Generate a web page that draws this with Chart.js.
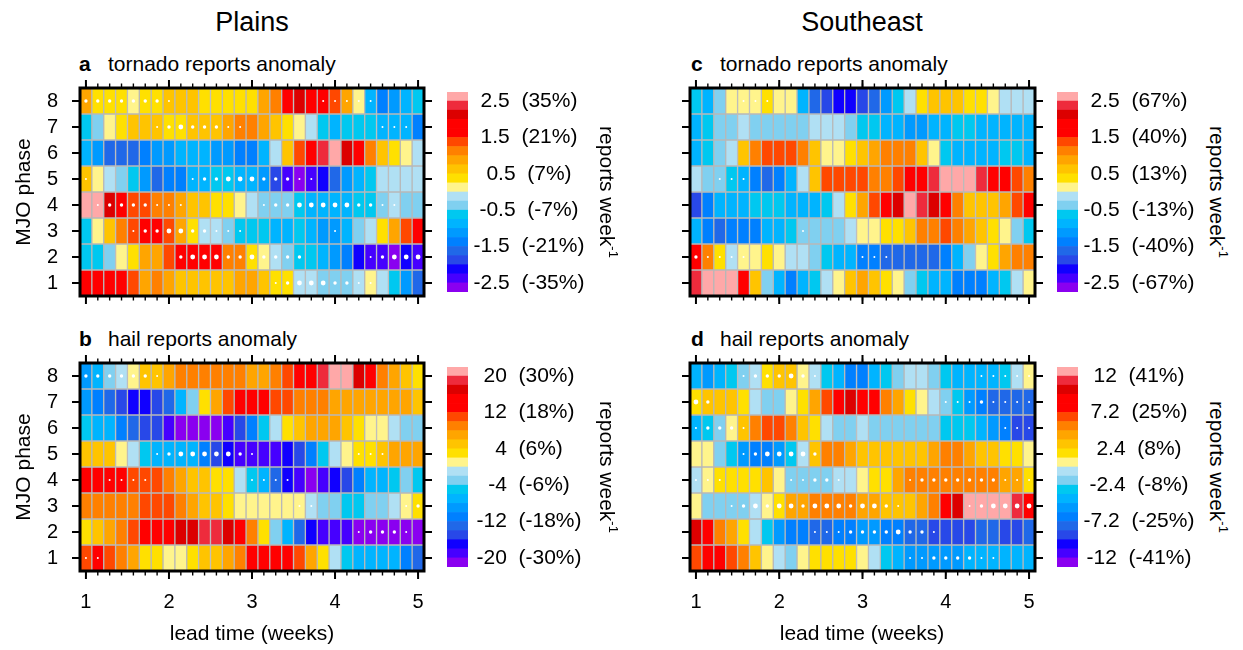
<!DOCTYPE html>
<html>
<head>
<meta charset="utf-8">
<script src="https://cdn.jsdelivr.net/npm/chart.js@4.4.1/dist/chart.umd.min.js"></script>
<style>
  body { margin: 0; background: #fff; }
  #page { position: relative; width: 1243px; height: 650px; overflow: hidden; background: #fff;
          font-family: "Liberation Sans", Arial, Helvetica, sans-serif; color: #000; }
  #page canvas { position: absolute; }
  .t { position: absolute; white-space: nowrap; line-height: 1; }
  .region { font-size: 27px; transform: translate(-50%, -50%); }
  .panel { font-size: 21px; transform: translate(0, -50%); }
  .panel b { display: inline-block; width: 29px; }
  .ylab { font-size: 21px; transform: translate(-50%, -50%) rotate(-90deg); }
  .xlab { font-size: 21px; transform: translate(-50%, -50%); }
  .unit { font-size: 21px; transform: translate(-50%, -50%) rotate(90deg); }
  .unit sup { font-size: 13px; line-height: 0; vertical-align: 9px; }
</style>
</head>
<body>
<div id="page">
  <canvas id="heatA" width="440" height="226" style="left:0px;top:80px"></canvas>
  <canvas id="heatB" width="440" height="295" style="left:0px;top:355px"></canvas>
  <canvas id="heatC" width="440" height="226" style="left:610px;top:80px"></canvas>
  <canvas id="heatD" width="440" height="295" style="left:610px;top:355px"></canvas>
  <canvas id="barA" width="150" height="226" style="left:440px;top:80px"></canvas>
  <canvas id="barB" width="150" height="226" style="left:440px;top:355px"></canvas>
  <canvas id="barC" width="150" height="226" style="left:1050px;top:80px"></canvas>
  <canvas id="barD" width="150" height="226" style="left:1050px;top:355px"></canvas>

  <div class="t region" style="left:252px;top:22px">Plains</div>
  <div class="t region" style="left:862px;top:22px">Southeast</div>

  <div class="t panel" style="left:79px;top:63px"><b>a</b>tornado reports anomaly</div>
  <div class="t panel" style="left:79px;top:338px"><b>b</b>hail reports anomaly</div>
  <div class="t panel" style="left:691px;top:63px"><b>c</b>tornado reports anomaly</div>
  <div class="t panel" style="left:691px;top:338px"><b>d</b>hail reports anomaly</div>

  <div class="t ylab" style="left:22px;top:192px">MJO phase</div>
  <div class="t ylab" style="left:22px;top:467px">MJO phase</div>
  <div class="t xlab" style="left:252px;top:632px">lead time (weeks)</div>
  <div class="t xlab" style="left:862px;top:632px">lead time (weeks)</div>

  <div class="t unit" style="left:607px;top:192px">reports week<sup>-1</sup></div>
  <div class="t unit" style="left:607px;top:467px">reports week<sup>-1</sup></div>
  <div class="t unit" style="left:1217px;top:192px">reports week<sup>-1</sup></div>
  <div class="t unit" style="left:1217px;top:467px">reports week<sup>-1</sup></div>
</div>

<script>
// Lead time in days (plotted in weeks), MJO phases listed top row first.
const leadDays = [7, 8, 9, 10, 11, 12, 13, 14, 15, 16, 17, 18, 19, 20, 21, 22, 23, 24, 25, 26, 27, 28, 29, 30, 31, 32, 33, 34, 35];
const phases = [8, 7, 6, 5, 4, 3, 2, 1];
const weekTicks = [1, 2, 3, 4, 5];

// Contour levels of each panel (reports per week)
const tornadoLevels = [-2.5, -2.25, -2, -1.75, -1.5, -1.25, -1, -0.75, -0.5, -0.25, 0, 0.25, 0.5, 0.75, 1, 1.25, 1.5, 1.75, 2, 2.25, 2.5];
const plainsHailLevels = [-20, -18, -16, -14, -12, -10, -8, -6, -4, -2, 0, 2, 4, 6, 8, 10, 12, 14, 16, 18, 20];
const seHailLevels = [-12, -10.8, -9.6, -8.4, -7.2, -6, -4.8, -3.6, -2.4, -1.2, 0, 1.2, 2.4, 3.6, 4.8, 6, 7.2, 8.4, 9.6, 10.8, 12];

// Labelled colour-bar ticks
const tornadoTicks = [-2.5, -1.5, -0.5, 0.5, 1.5, 2.5];
const plainsTornadoPct = ['-35%', '-21%', '-7%', '7%', '21%', '35%'];
const seTornadoPct = ['-67%', '-40%', '-13%', '13%', '40%', '67%'];
const plainsHailTicks = [-20, -12, -4, 4, 12, 20];
const plainsHailPct = ['-30%', '-18%', '-6%', '6%', '18%', '30%'];
const seHailTicks = [-12, -7.2, -2.4, 2.4, 7.2, 12];
const seHailPct = ['-41%', '-25%', '-8%', '8%', '25%', '41%'];

// a: Plains tornado reports anomaly (rows = phases 8..1, columns = lead days 7..35)
const plainsTornado = [
  [0.9, 0.4, 0.4, 0.4, 0.1, 0.4, 0.4, 0.6, 0.6, 0.6, 0.4, 0.4, 0.4, 0.4, 0.4, 0.9, 1.1, 1.9, 2.1, 1.9, 1.9, 1.4, 0.9, 0.1, -0.8, -1.4, -1.1, -0.8, -0.6],
  [-0.6, -0.4, 0.1, 0.4, 0.6, 0.6, 0.6, 0.4, 0.4, 0.6, 0.6, 0.6, 0.9, 1.1, 1.1, 0.9, 0.6, 0.4, 0.1, -0.1, -0.6, -0.8, -0.6, -0.6, -0.6, -0.8, -0.8, -0.8, -1.4],
  [-0.8, -1.1, -1.6, -1.6, -1.6, -1.4, -1.1, -1.1, -0.8, -0.8, -0.8, -1.1, -1.1, -1.4, -1.4, -0.8, -0.1, 0.6, 1.4, 1.9, 2.4, 2.6, 2.1, 1.9, 1.1, 0.6, 0.4, 0.1, -0.1],
  [0.6, 0.1, -0.1, -0.4, -0.6, -1.1, -1.6, -1.4, -1.4, -0.8, -0.8, -0.6, -0.6, -0.8, -0.8, -1.1, -1.9, -2.4, -2.6, -2.4, -2.1, -1.6, -1.1, -0.8, -0.6, -0.1, -0.1, -0.1, -0.1],
  [2.6, 2.6, 2.1, 1.9, 1.4, 1.4, 1.1, 1.1, 0.9, 0.6, 0.6, 0.4, 0.4, 0.1, -0.1, -0.4, -0.4, -0.4, -0.6, -0.9, -0.8, -0.8, -0.8, -0.6, -0.6, -0.4, -0.1, -0.4, -0.4],
  [-0.6, 0.1, 0.6, 1.1, 1.4, 1.9, 1.9, 1.4, 0.9, 0.4, -0.1, -0.1, -0.4, -0.6, -0.6, -0.6, -0.8, -0.8, -0.6, -0.8, -1.1, -1.1, -0.8, -0.4, -0.1, 0.4, 0.9, 1.4, 1.9],
  [-0.6, -0.6, -0.4, 0.1, 0.4, 0.9, 0.9, 1.4, 1.9, 1.9, 1.9, 1.9, 1.1, 1.1, 0.4, 0.1, -0.1, -0.4, -0.6, -0.6, -0.8, -1.1, -1.4, -2.1, -2.4, -2.4, -2.6, -2.1, -2.4],
  [1.9, 1.9, 1.9, 1.9, 1.4, 0.9, 1.1, 0.9, 0.6, 0.6, 0.6, 0.6, 0.6, 0.9, 0.9, 0.6, 0.4, 0.4, -0.1, -0.1, -0.4, -0.4, -0.4, -0.1, 0.1, -0.1, -0.6, -1.1, -1.6]
];
// Significance marks: 0 none, 1/2/3 increasing confidence
const plainsTornadoSig = [
  [2, 2, 2, 2, 2, 2, 2, 1, 0, 0, 0, 0, 0, 0, 0, 0, 0, 0, 0, 0, 1, 1, 1, 1, 1, 0, 0, 0, 0],
  [0, 0, 0, 0, 0, 0, 1, 2, 3, 2, 2, 2, 1, 1, 0, 0, 0, 0, 0, 0, 0, 0, 0, 0, 0, 1, 1, 1, 0],
  [0, 0, 0, 0, 0, 0, 0, 0, 0, 0, 0, 0, 0, 0, 0, 0, 0, 0, 0, 0, 0, 0, 0, 0, 0, 0, 0, 0, 0],
  [1, 0, 0, 0, 0, 0, 0, 0, 0, 1, 2, 2, 3, 3, 3, 2, 2, 2, 1, 1, 0, 0, 0, 0, 0, 0, 0, 0, 0],
  [0, 1, 2, 2, 2, 2, 1, 1, 1, 0, 0, 0, 0, 0, 0, 1, 2, 2, 3, 3, 3, 3, 3, 2, 2, 1, 1, 0, 0],
  [0, 0, 0, 0, 1, 2, 2, 3, 3, 2, 2, 1, 1, 1, 0, 0, 0, 0, 0, 0, 0, 1, 0, 0, 0, 0, 0, 0, 0],
  [0, 0, 0, 0, 0, 0, 0, 0, 2, 3, 3, 3, 2, 2, 3, 2, 2, 2, 2, 0, 0, 0, 0, 0, 1, 2, 3, 3, 3],
  [0, 0, 0, 0, 0, 0, 0, 0, 0, 0, 0, 0, 0, 0, 0, 0, 1, 2, 3, 3, 3, 2, 2, 1, 1, 0, 0, 0, 0]
];

// b: Plains hail reports anomaly
const plainsHail = [
  [-9, -6.5, -3, -1, 1, 5, 5, 7, 9, 9, 9, 9, 9, 9, 7, 7, 9, 11, 15, 15, 19, 21, 21, 17, 15, 9, 7, 5, 3],
  [-9, -11, -13, -15, -17, -17, -15, -13, -7, -3, 3, 7, 11, 15, 15, 15, 11, 11, 9, 9, 9, 7, 7, 7, 7, 7, 7, 7, 5],
  [-5, -6.5, -7, -11, -13, -15, -15, -19, -21, -21, -21, -21, -19, -15, -11, -5, -1, 3, 5, 7, 7, 7, 5, 3, 1, 1, -1, -3, -3],
  [5, 5, 5, 1, -1, -5, -6.5, -7, -7, -7, -11, -15, -17, -19, -19, -19, -19, -17, -15, -11, -5, -1, 1, 3, 3, 5, 7, 7, 7],
  [15, 15, 15, 15, 11, 11, 11, 9, 7, 5, 5, 3, 3, -1, -5, -7, -13, -17, -19, -21, -19, -17, -15, -11, -6.5, -6.5, -5, -3, -5],
  [9, 9, 9, 9, 9, 11, 11, 11, 9, 7, 5, 5, 3, 1, 1, 1, 1, 1, 1, -1, -3, -3, -5, -5, -3, -3, -1, 1, 3],
  [3, 5, 7, 9, 11, 15, 15, 15, 17, 17, 19, 19, 17, 15, 9, 3, -3, -7, -13, -17, -19, -19, -19, -21, -21, -21, -21, -21, -21],
  [11, 15, 11, 9, 7, 3, 3, 1, 1, 3, 5, 5, 7, 9, 15, 15, 15, 15, 11, 7, 3, -1, -5, -6.5, -6.5, -7, -7, -11, -13]
];
const plainsHailSig = [
  [2, 2, 2, 2, 2, 2, 1, 0, 0, 0, 0, 0, 0, 0, 0, 0, 0, 0, 0, 0, 0, 0, 0, 0, 0, 0, 0, 0, 0],
  [0, 0, 0, 0, 0, 0, 0, 0, 0, 0, 0, 0, 0, 0, 0, 0, 0, 0, 0, 0, 0, 0, 0, 0, 0, 0, 0, 0, 0],
  [0, 0, 0, 0, 0, 0, 0, 0, 0, 0, 0, 0, 0, 0, 0, 0, 0, 0, 0, 0, 0, 0, 0, 0, 0, 0, 0, 0, 0],
  [0, 0, 0, 0, 0, 0, 1, 2, 3, 3, 3, 3, 3, 2, 1, 0, 0, 0, 0, 0, 0, 0, 0, 1, 1, 1, 0, 0, 0],
  [0, 0, 1, 1, 1, 1, 0, 0, 0, 0, 0, 0, 0, 0, 1, 1, 1, 1, 0, 0, 0, 0, 0, 0, 0, 0, 0, 0, 0],
  [0, 0, 0, 0, 0, 0, 0, 0, 0, 0, 0, 0, 0, 0, 0, 0, 0, 0, 1, 1, 0, 0, 0, 0, 0, 0, 0, 1, 2],
  [0, 0, 0, 0, 0, 0, 0, 0, 0, 0, 0, 0, 0, 0, 0, 0, 0, 0, 0, 0, 0, 0, 0, 1, 2, 2, 2, 1, 0],
  [1, 1, 0, 0, 0, 0, 0, 0, 0, 0, 0, 0, 0, 0, 0, 0, 0, 0, 0, 0, 0, 0, 0, 0, 0, 0, 0, 0, 0]
];

// c: Southeast tornado reports anomaly
const seTornado = [
  [-0.6, -0.8, -0.4, 0.1, 0.1, 0.1, 0.4, 0.1, 0.1, -0.8, -1.6, -1.9, -2.1, -2.1, -1.9, -1.6, -1.1, -0.6, -0.1, 0.4, 0.6, 0.6, 0.6, 0.4, 0.4, 0.1, -0.1, -0.1, -0.1],
  [-0.8, -0.6, -0.4, -0.4, -0.1, -0.4, -0.4, -0.4, -0.4, -0.4, -0.1, -0.1, -0.1, -0.4, -0.6, -0.6, -0.8, -0.9, -1.1, -1.1, -0.9, -0.8, -0.6, -0.6, -0.8, -0.8, -0.8, -0.8, -0.9],
  [-0.8, -0.6, -0.4, -0.1, 0.6, 1.1, 1.4, 1.4, 1.4, 1.1, 0.6, 0.1, 0.1, 0.4, 0.6, 0.9, 1.1, 1.1, 1.1, 0.6, 0.1, -0.6, -0.8, -0.9, -0.8, -0.8, -0.6, -0.6, -0.8],
  [-0.1, -0.4, -0.4, -0.6, -0.9, -1.4, -1.6, -1.4, -0.8, -0.1, 0.6, 1.4, 1.4, 1.4, 1.4, 1.1, 1.1, 1.4, 1.9, 1.9, 2.4, 2.6, 2.6, 2.6, 2.4, 1.9, 1.9, 1.4, 1.1],
  [-1.9, -1.4, -0.9, -0.8, -0.8, -0.6, -0.6, -0.6, -0.8, -0.8, -0.8, -0.6, -0.1, 0.4, 0.9, 1.4, 1.9, 2.1, 2.6, 2.4, 2.1, 1.9, 1.1, 0.6, 0.6, 0.6, 0.9, 1.4, 1.9],
  [-0.9, -1.4, -1.6, -1.4, -1.4, -1.4, -0.9, -0.8, -0.6, -0.4, -0.4, -0.4, -0.4, -0.1, 0.1, 0.1, 0.4, 0.4, 0.6, 1.1, 1.1, 1.4, 1.1, 0.9, 0.6, 0.4, 0.1, -0.4, -0.6],
  [1.9, 1.1, 0.4, -0.1, 0.1, 0.1, 0.4, 0.1, -0.1, -0.1, -0.4, -0.6, -0.8, -0.9, -1.4, -1.4, -1.6, -1.6, -1.6, -1.6, -1.6, -1.4, -0.8, -0.4, 0.1, 0.4, 0.9, 1.1, 1.1],
  [2.4, 2.6, 2.6, 2.6, 1.9, 0.6, -0.4, -0.9, -1.4, -0.9, -0.6, -0.1, 0.1, 0.6, 0.9, 0.6, 0.4, 0.1, -0.4, -0.6, -0.8, -0.9, -1.4, -1.4, -1.4, -0.9, -0.6, -0.1, 0.1]
];
const seTornadoSig = [
  [0, 0, 0, 0, 1, 1, 1, 0, 0, 0, 0, 0, 0, 0, 0, 0, 0, 0, 0, 0, 0, 0, 0, 0, 0, 0, 0, 0, 0],
  [0, 0, 0, 0, 0, 0, 0, 0, 0, 0, 0, 0, 0, 0, 0, 0, 0, 0, 0, 0, 0, 0, 0, 0, 0, 0, 0, 0, 0],
  [0, 0, 0, 0, 0, 0, 0, 0, 0, 0, 0, 0, 0, 0, 0, 0, 0, 0, 0, 0, 0, 0, 0, 0, 0, 0, 0, 0, 0],
  [0, 0, 1, 1, 1, 0, 0, 0, 0, 0, 0, 0, 0, 0, 0, 0, 0, 0, 0, 0, 0, 0, 0, 0, 0, 0, 0, 0, 0],
  [0, 0, 0, 0, 0, 0, 0, 0, 0, 0, 0, 0, 0, 0, 0, 0, 0, 0, 0, 0, 0, 0, 0, 0, 0, 0, 0, 0, 0],
  [0, 0, 0, 0, 0, 0, 0, 0, 0, 1, 0, 0, 0, 0, 0, 0, 0, 0, 0, 0, 0, 0, 0, 0, 0, 0, 0, 0, 0],
  [2, 1, 1, 1, 1, 0, 0, 0, 0, 0, 0, 0, 0, 0, 1, 1, 1, 0, 0, 0, 0, 0, 0, 0, 0, 0, 0, 0, 0],
  [0, 0, 0, 0, 0, 0, 0, 0, 0, 0, 0, 0, 0, 0, 0, 0, 0, 0, 0, 0, 0, 0, 0, 0, 0, 0, 0, 0, 0]
];

// d: Southeast hail reports anomaly
const seHail = [
  [-4.0, -5.4, -4.0, -3.0, -1.8, -0.6, 1.8, 3.0, 3.0, 0.6, -0.6, -3.0, -4.2, -6.6, -6.6, -4.0, -3.0, -1.8, -0.6, -0.6, -1.8, -3.0, -4.0, -4.0, -4.0, -4.0, -3.0, -0.6, 0.6],
  [1.8, 3.0, 3.0, 3.0, 1.8, -0.6, -1.8, -1.8, 0.6, 1.8, 4.2, 6.6, 9.0, 10.2, 9.0, 9.0, 5.4, 4.2, 1.8, 0.6, -0.6, -1.8, -3.0, -5.4, -6.6, -7.8, -7.8, -7.8, -7.8],
  [-4.0, -3.0, -1.8, 0.6, 3.0, 5.4, 6.6, 6.6, 5.4, 3.0, 1.8, -0.6, -1.8, -1.8, -0.6, -1.8, -1.8, -1.8, -1.8, -1.8, -1.8, -3.0, -3.0, -3.0, -4.0, -5.4, -6.6, -9.0, -9.0],
  [0.6, 0.6, -1.8, -3.0, -5.4, -6.6, -6.6, -5.4, -3.0, -0.6, 3.0, 5.4, 5.4, 4.2, 3.0, 3.0, 3.0, 3.0, 3.0, 3.0, 4.2, 5.4, 5.4, 4.2, 3.0, 3.0, 1.8, 1.8, 0.6],
  [-0.6, 0.6, 1.8, 1.8, 1.8, 1.8, 3.0, 0.6, -1.8, -1.8, -1.8, -1.8, -0.6, -0.6, 0.6, 1.8, 1.8, 4.2, 5.4, 5.4, 5.4, 5.4, 5.4, 5.4, 5.4, 5.4, 4.2, 4.2, 1.8],
  [0.6, -1.8, -1.8, -1.8, -1.8, -0.6, 0.6, 1.8, 4.2, 4.2, 5.4, 5.4, 5.4, 5.4, 4.2, 4.2, 3.0, 3.0, 3.0, 4.2, 5.4, 9.0, 10.2, 12.6, 12.6, 12.6, 12.6, 11.4, 9.0],
  [10.2, 9.0, 5.4, 4.2, 1.8, -0.6, -3.0, -5.4, -6.6, -6.6, -7.8, -7.8, -6.6, -6.6, -5.4, -5.4, -6.6, -6.6, -7.8, -7.8, -9.0, -9.0, -9.0, -9.0, -7.8, -7.8, -9.0, -9.0, -7.8],
  [6.6, 9.0, 9.0, 6.6, 5.4, 3.0, 0.6, -0.6, -1.8, 0.6, 1.8, 1.8, 1.8, 1.8, 0.6, -0.6, -3.0, -4.0, -5.4, -5.4, -5.4, -5.4, -5.4, -4.0, -4.0, -4.0, -4.0, -4.0, -4.0]
];
const seHailSig = [
  [0, 0, 0, 0, 1, 2, 2, 2, 3, 2, 1, 0, 0, 0, 0, 0, 0, 0, 0, 0, 0, 0, 0, 0, 1, 1, 1, 1, 1],
  [3, 2, 0, 0, 0, 0, 0, 0, 0, 0, 0, 0, 0, 0, 0, 0, 0, 0, 0, 0, 0, 1, 1, 1, 2, 1, 1, 1, 1],
  [1, 2, 2, 2, 1, 0, 0, 0, 0, 0, 0, 0, 0, 0, 0, 0, 0, 0, 0, 0, 0, 0, 0, 0, 0, 0, 1, 1, 1],
  [0, 0, 0, 0, 1, 2, 3, 3, 3, 3, 2, 0, 0, 0, 0, 0, 0, 0, 0, 0, 0, 0, 0, 0, 0, 0, 0, 0, 0],
  [1, 1, 1, 0, 0, 0, 0, 0, 1, 1, 2, 2, 1, 0, 0, 0, 0, 0, 1, 2, 2, 2, 2, 2, 2, 2, 1, 1, 1],
  [0, 0, 0, 1, 2, 3, 2, 3, 3, 2, 3, 3, 3, 2, 3, 3, 2, 1, 0, 0, 0, 0, 0, 1, 2, 3, 3, 3, 3],
  [0, 0, 0, 0, 0, 0, 0, 0, 0, 0, 1, 1, 1, 2, 2, 2, 2, 3, 2, 2, 1, 0, 0, 0, 0, 0, 0, 0, 0],
  [0, 0, 0, 0, 0, 0, 0, 0, 0, 0, 0, 0, 0, 0, 0, 0, 0, 0, 1, 1, 2, 2, 2, 2, 1, 1, 0, 0, 0]
];

// Colour table, lowest level first
const levelColors = ['#8a00f0', '#4600ff', '#1000ff', '#2848e8', '#2068e8', '#0080ff', '#009aff', '#00b4ff',
  '#00c8f0', '#80d0f0', '#b0e0f4', '#fff48c', '#ffe000', '#ffc400', '#ffa500', '#ff8000',
  '#ff4800', '#ff0000', '#ff0000', '#dc0000', '#ee2b3c', '#ffa8a8'];
const cellEdge = '#b8b8b8';
const dotSize = [0, 1.0, 1.7, 2.4];
const labelFont = '"Liberation Sans", Arial, Helvetica, sans-serif';

Chart.defaults.font.family = labelFont;
Chart.defaults.color = '#000';
Chart.defaults.animation = false;

function levelColor(v, levels) {
  let k = 0;
  while (k < levels.length && levels[k] <= v) k++;
  return levelColors[k];
}

// Keep the plot box fixed: no extra room reserved for end labels
function fixX(h) {
  return s => { s.height = h; s.paddingLeft = 0; s.paddingRight = 0; s.paddingTop = 0; s.paddingBottom = 0; };
}
function fixY(w) {
  return s => { s.width = w; s.paddingLeft = 0; s.paddingRight = 0; s.paddingTop = 0; s.paddingBottom = 0; };
}

// Black frame with outward ticks on all four sides
const frameTicks = {
  id: 'frameTicks',
  afterDatasetsDraw(chart) {
    const { ctx, chartArea: a } = chart;
    const xs = chart.scales.x, ys = chart.scales.y;
    const seg = (x1, y1, x2, y2) => { ctx.beginPath(); ctx.moveTo(x1, y1); ctx.lineTo(x2, y2); ctx.stroke(); };
    ctx.save();
    ctx.strokeStyle = '#000';
    ctx.lineWidth = 1.4;
    leadDays.forEach(d => {
      const px = xs.getPixelForValue(d / 7);
      seg(px, a.top, px, a.top - 4.5);
      seg(px, a.bottom, px, a.bottom + 4.5);
    });
    ctx.lineWidth = 2;
    weekTicks.forEach(w => {
      const px = xs.getPixelForValue(w);
      seg(px, a.top, px, a.top - 8);
      seg(px, a.bottom, px, a.bottom + 8);
    });
    phases.forEach(p => {
      const py = ys.getPixelForValue(p);
      seg(a.left, py, a.left - 8, py);
      seg(a.right, py, a.right + 8, py);
    });
    ctx.lineWidth = 3;
    ctx.strokeRect(a.left, a.top, a.right - a.left, a.bottom - a.top);
    ctx.restore();
  }
};

function drawHeatmap(id, rows, sig, levels, showY, showX, padRight) {
  const datasets = phases.map((p, r) => ({
    type: 'bar',
    data: leadDays.map(d => ({ x: d / 7, y: [p - 0.5, p + 0.5] })),
    backgroundColor: rows[r].map(v => levelColor(v, levels)),
    borderColor: cellEdge,
    borderWidth: 1,
    borderSkipped: false,
    grouped: false,
    barPercentage: 1,
    categoryPercentage: 1,
    order: 2
  }));
  const dots = [], radii = [];
  phases.forEach((p, r) => leadDays.forEach((d, c) => {
    if (sig[r][c] > 0) { dots.push({ x: d / 7, y: p }); radii.push(dotSize[sig[r][c]]); }
  }));
  datasets.push({
    type: 'scatter', data: dots, pointRadius: radii, pointHoverRadius: radii,
    pointBackgroundColor: '#ffffff', pointBorderWidth: 0, order: 0
  });
  new Chart(document.getElementById(id), {
    type: 'bar',
    data: { datasets },
    options: {
      responsive: false,
      events: [],
      layout: { padding: { top: 8, right: padRight, bottom: 0, left: 0 } },
      plugins: { legend: { display: false }, tooltip: { enabled: false } },
      scales: {
        x: {
          type: 'linear', offset: false, min: 1 - 0.5 / 7, max: 5 + 0.5 / 7,
          afterBuildTicks: s => { s.ticks = weekTicks.map(v => ({ value: v })); },
          ticks: { display: showX, autoSkip: false, maxRotation: 0, padding: 19, font: { size: 20 } },
          grid: { display: false, drawTicks: false, offset: false },
          border: { display: false },
          afterFit: fixX(showX ? 79 : 10)
        },
        y: {
          type: 'linear', offset: false, min: 0.5, max: 8.5,
          afterBuildTicks: s => { s.ticks = phases.map(v => ({ value: v })); },
          ticks: { display: showY, autoSkip: false, padding: 22, font: { size: 20 } },
          grid: { display: false, drawTicks: false },
          border: { display: false },
          afterFit: fixY(80)
        }
      }
    },
    plugins: [frameTicks]
  });
}

const measureCtx = document.createElement('canvas').getContext('2d');

function drawColorbar(id, levels, tickVals, pct) {
  const step = levels[1] - levels[0];
  const lo = levels[0] - step, hi = levels[levels.length - 1] + step;
  const edges = [lo].concat(levels, [hi]);
  const texts = tickVals.map((v, i) => v + '  (' + pct[i] + ')');
  measureCtx.font = '21px ' + labelFont;
  const widest = Math.max(...texts.map(t => measureCtx.measureText(t).width));
  const datasets = levelColors.map((c, i) => ({
    data: [[edges[i], edges[i + 1]]],
    backgroundColor: c,
    borderWidth: 0,
    grouped: false,
    barPercentage: 1,
    categoryPercentage: 1
  }));
  new Chart(document.getElementById(id), {
    type: 'bar',
    data: { labels: [''], datasets },
    options: {
      responsive: false,
      events: [],
      layout: { padding: { top: 12, right: 0, bottom: 14, left: 7 } },
      plugins: { legend: { display: false }, tooltip: { enabled: false } },
      scales: {
        x: { display: false },
        y: {
          type: 'linear', position: 'right', min: lo, max: hi,
          afterBuildTicks: s => { s.ticks = tickVals.map(v => ({ value: v })); },
          ticks: { callback: (v, i) => texts[i], autoSkip: false, crossAlign: 'center', padding: 61 - widest / 2, font: { size: 21 } },
          grid: { display: false, drawTicks: false },
          border: { display: false },
          afterFit: fixY(122)
        }
      }
    }
  });
}

drawHeatmap('heatA', plainsTornado, plainsTornadoSig, tornadoLevels, true, false, 16);
drawHeatmap('heatB', plainsHail, plainsHailSig, plainsHailLevels, true, true, 16);
drawHeatmap('heatC', seTornado, seTornadoSig, tornadoLevels, false, false, 15);
drawHeatmap('heatD', seHail, seHailSig, seHailLevels, false, true, 15);

drawColorbar('barA', tornadoLevels, tornadoTicks, plainsTornadoPct);
drawColorbar('barB', plainsHailLevels, plainsHailTicks, plainsHailPct);
drawColorbar('barC', tornadoLevels, tornadoTicks, seTornadoPct);
drawColorbar('barD', seHailLevels, seHailTicks, seHailPct);
</script>
</body>
</html>
